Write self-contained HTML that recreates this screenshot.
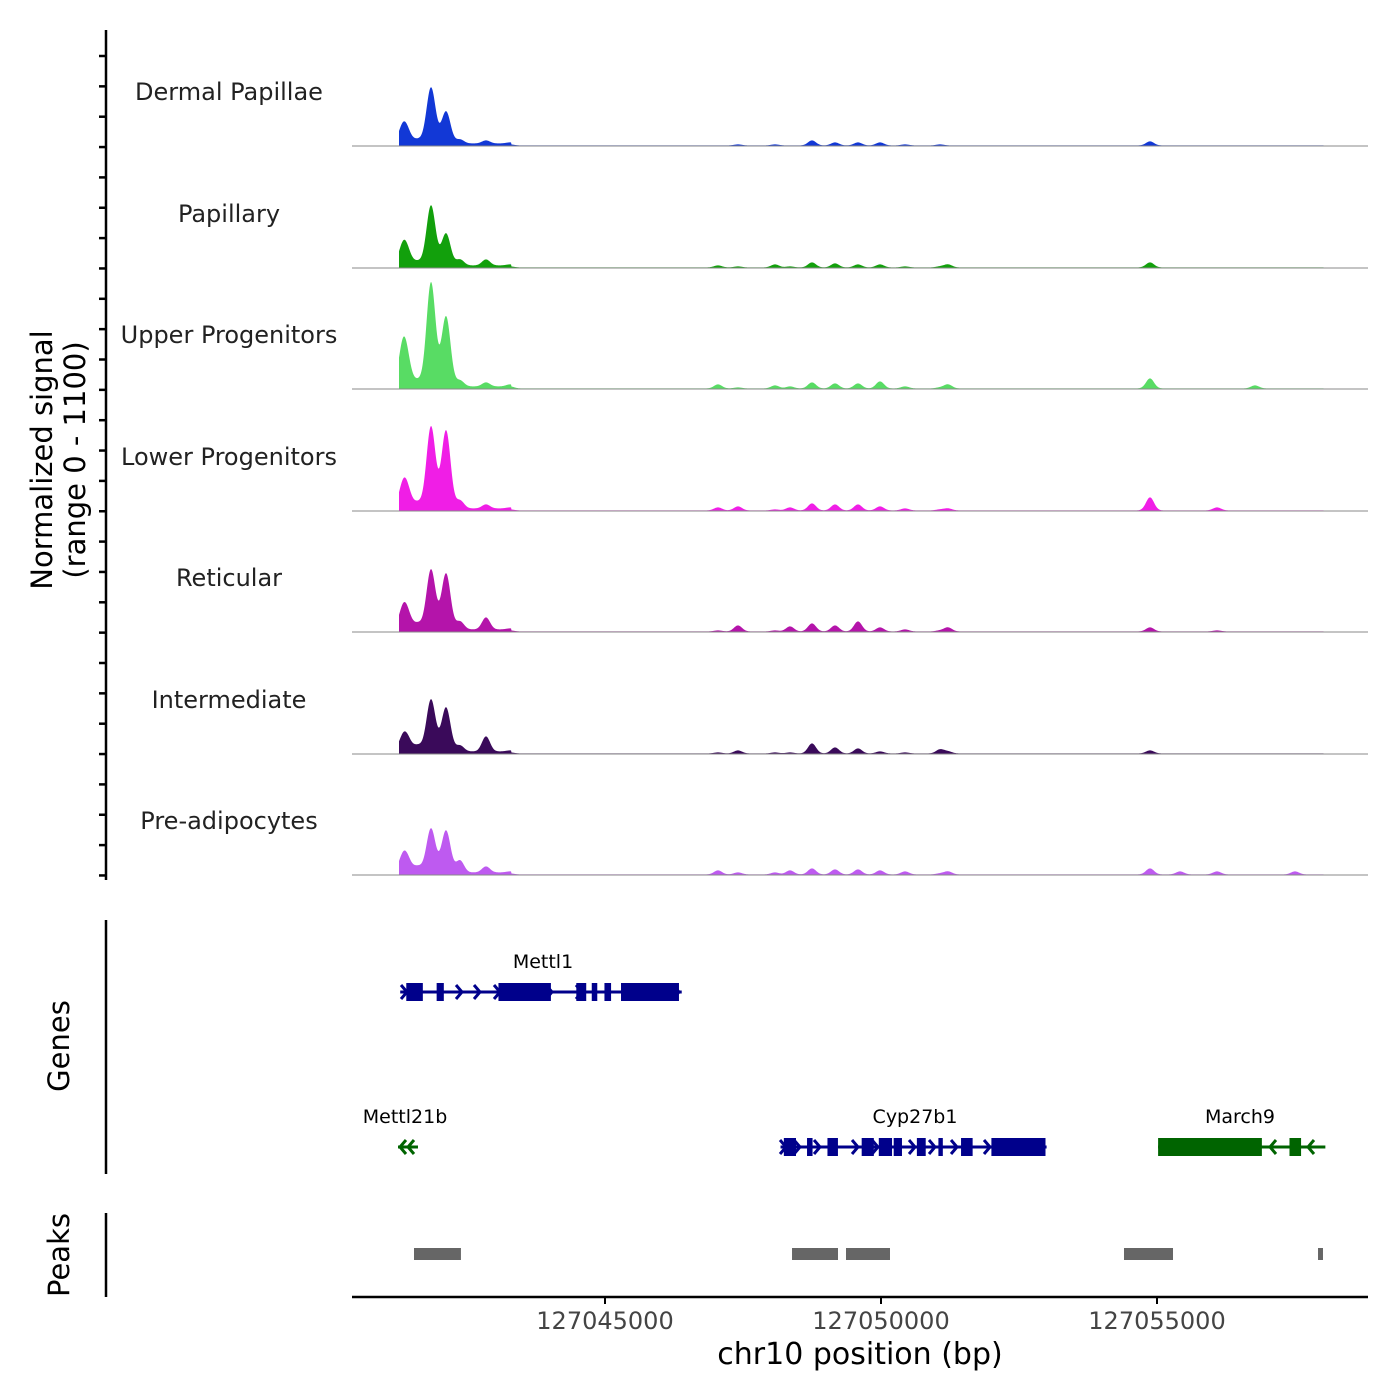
<!DOCTYPE html>
<html><head><meta charset="utf-8"><style>
body{margin:0;background:#fff}
svg{display:block;font-family:"DejaVu Sans","Liberation Sans",sans-serif}
</style></head><body>
<svg id="chart" width="1400" height="1400" viewBox="0 0 1400 1400">
<g id="tracks"></g>
<g id="left"></g>
<g id="genes"></g>
<g id="peaks"></g>
<g id="xaxis"></g>
</svg>
<script>
const trackNames=["Dermal Papillae","Papillary","Upper Progenitors","Lower Progenitors","Reticular","Intermediate","Pre-adipocytes"];
const trackColors=["#1238d6","#12a00c","#58dc64","#f01ee6","#b414aa","#3a0a5a","#be5af0"];
const peakPos=[127041341,127041413,127041612,127041848,127042120,127042373,127042844,127043279,127047047,127047409,127048080,127048351,127048750,127049167,127049583,127049982,127050435,127051069,127051214,127054873,127055417,127056087,127056775,127057500];
// heights per track (px) for each peakPos
const h_dp=[16,8,4,56,32,4,3,1,0,1,1,0,5,3,3,3,1,1,0,4,0,0,0,0];
const h_pap=[18,10,4,60,32,6,6,1,2,1,3,1,5,4,3,3,1,1,3,5,0,0,0,0];
const h_up=[38,16,6,104,70,6,4,2,4,1,3,2,6,5,5,7,2,1,4,10,0,0,3,0];
const h_lo=[20,14,6,82,78,8,4,1,3,4,1,3,7,6,6,4,2,1,2,13,0,3,0,0];
const h_ret=[18,12,6,60,56,8,12,1,1,6,1,5,8,6,10,4,2,1,4,4,0,1,0,0];
const h_int=[12,10,6,52,44,6,15,1,1,3,1,1,10,6,5,2,1,4,2,3,0,0,0,0];
const h_pre=[14,10,6,44,42,12,6,1,4,2,2,4,6,5,5,4,3,1,3,6,3,3,0,3];
const trackHeights=[h_dp,h_pap,h_up,h_lo,h_ret,h_int,h_pre];
const xTicks=[127045000,127050000,127055000];
const dataStart=127041268, dataEnd=127058025;
const geneMettl1Exons=[[127041400,127041700],[127041950,127042080],[127043070,127044020],[127044480,127044660],[127044760,127044860],[127044990,127045110],[127045290,127046340]];
const geneCypExons=[[127048240,127048460],[127048660,127048760],[127049030,127049220],[127049650,127049870],[127049960,127050200],[127050230,127050380],[127050650,127050810],[127051040,127051120],[127051450,127051660],[127052000,127052980]];
const geneMarchExons=[[127055020,127056900],[127057400,127057610]];
const peakRegions=[[127041540,127042390],[127048388,127049221],[127049366,127050163],[127054402,127055290],[127057917,127058007]];

const NS="http://www.w3.org/2000/svg";
const X=bp=>605+(bp-127045000)*0.0552;
function el(tag,attrs,parent,text){const e=document.createElementNS(NS,tag);for(const k in attrs)e.setAttribute(k,attrs[k]);if(text!==undefined)e.textContent=text;parent.appendChild(e);return e;}
const baselines=[146,268,389,511,632,754,875];
const G=document.getElementById('tracks');
trackNames.forEach((name,t)=>{
  const base=baselines[t];
  const hs=trackHeights[t];
  const x0=X(dataStart), x1=X(dataEnd);
  let d=`M${x0},${base}`;
  for(let x=x0;x<=x1;x+=0.5){
    let y=0;
    hs.forEach((h,i)=>{const px=X(peakPos[i]);const s=(i==3||i==4)?4.5:(i<3?4.5:4);const dd=(x-px)/s;y+=h*Math.exp(-dd*dd/2);});
    if(x<X(127043300)) y+=2;
    y+=0.6;
    d+=`L${x.toFixed(1)},${(base-y).toFixed(2)}`;
  }
  d+=`L${x1},${base}Z`;
  const p=el('path',{d:d,fill:trackColors[t]},G);
  
  
  const l=el('line',{x1:352,x2:1368,y1:base,y2:base,stroke:'#888','stroke-width':1},G);
  
  
  const tx=el('text',{x:229,y:base-46,'text-anchor':'middle','font-size':24,fill:'#222'},G,name);
  
  
});
const L=document.getElementById('left');
el('line',{x1:106,x2:106,y1:30,y2:880,stroke:'#000','stroke-width':2.5},L);
for(let y=56;y<=880;y+=30.35){el('line',{x1:99,x2:106,y1:y,y2:y,stroke:'#000','stroke-width':2.5},L);}
let t1=el('text',{x:0,y:0,transform:'translate(52,460) rotate(-90)','text-anchor':'middle','font-size':29,fill:'#000'},L,'Normalized signal');

let t2=el('text',{x:0,y:0,transform:'translate(85,460) rotate(-90)','text-anchor':'middle','font-size':29,fill:'#000'},L,'(range 0 - 1100)');

el('line',{x1:106,x2:106,y1:920,y2:1174,stroke:'#000','stroke-width':2.5},L);
el('line',{x1:106,x2:106,y1:1213,y2:1297,stroke:'#000','stroke-width':2.5},L);
let t3=el('text',{x:0,y:0,transform:'translate(69,1046) rotate(-90)','text-anchor':'middle','font-size':29,fill:'#000'},L,'Genes');

let t4=el('text',{x:0,y:0,transform:'translate(69,1255) rotate(-90)','text-anchor':'middle','font-size':29,fill:'#000'},L,'Peaks');


const GN=document.getElementById('genes');
function gene(name,y,start,end,exons,arrows,dir,color,labelX){
  const g=el('g',{},GN);
  
  
  el('line',{x1:X(start),x2:X(end),y1:y,y2:y,stroke:color,'stroke-width':3},g);
  exons.forEach(e=>el('rect',{x:X(e[0]),y:y-9,width:X(e[1])-X(e[0]),height:18,fill:color},g));
  arrows.forEach(a=>{const s=dir;el('path',{d:`M${a-6*s},${y-7}L${a},${y}L${a-6*s},${y+7}`,fill:'none',stroke:color,'stroke-width':3},g);});
  el('text',{x:labelX,y:y-24,'text-anchor':'middle','font-size':19,fill:'#000'},g,name);
}
gene('Mettl1',992,127041290,127046390,geneMettl1Exons,[407,462,480,500,552,582,679],1,'#00008b',543);
gene('Cyp27b1',1147,127048180,127053000,geneCypExons,[786,800,820,858,878,915,935,957,990],1,'#00008b',915);
gene('March9',1147,127055020,127058050,geneMarchExons,[1270,1308,1160],-1,'#006400',1240);
gene('Mettl21b',1147,127041250,127041612,[],[400,408],-1,'#006400',405);

const P=document.getElementById('peaks');
peakRegions.forEach(r=>{const rc=el('rect',{x:X(r[0]),y:1248,width:X(r[1])-X(r[0]),height:12,fill:'#666'},P);
  });

const XA=document.getElementById('xaxis');
el('line',{x1:352,x2:1368,y1:1297,y2:1297,stroke:'#000','stroke-width':2.5},XA);
xTicks.forEach(v=>{el('line',{x1:X(v),x2:X(v),y1:1297,y2:1304,stroke:'#000','stroke-width':2},XA);
  const t=el('text',{x:X(v),y:1329,'text-anchor':'middle','font-size':24,fill:'#444'},XA,String(v));
  });
const xt=el('text',{x:860,y:1364,'text-anchor':'middle','font-size':30,fill:'#000'},XA,'chr10 position (bp)');

</script>
</body></html>
